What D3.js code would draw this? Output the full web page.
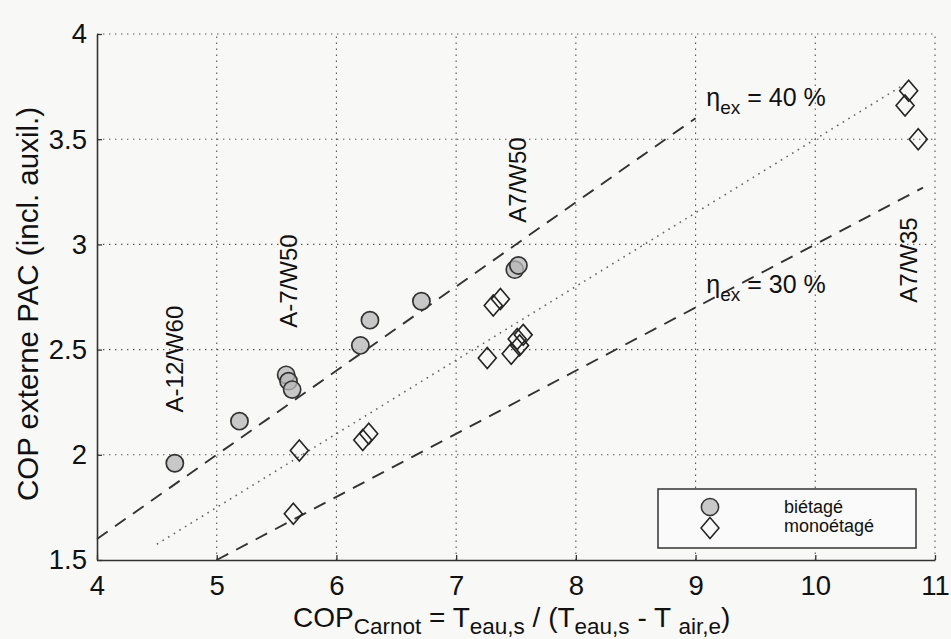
<!DOCTYPE html>
<html><head><meta charset="utf-8">
<script src="https://cdn.jsdelivr.net/npm/d3@7"></script>
<style>
body{margin:0;background:#f8f8f7}
svg{display:block}
text{font-family:"Liberation Sans",Arial,Helvetica,sans-serif;fill:#111}
</style>
</head><body>
<svg id="chart" width="951" height="639"></svg>
<script>
// Axis ticks
const xTicks = [4, 5, 6, 7, 8, 9, 10, 11];
const yTicks = [1.5, 2, 2.5, 3, 3.5, 4];
const yTickLabels = ["1.5", "2", "2.5", "3", "3.5", "4"];

// Measured heat pumps: two-stage (biétagé) and single-stage (monoétagé)
const bietageX = [4.65, 5.19, 5.58, 5.60, 5.63, 6.20, 6.28, 6.71, 7.49, 7.52];
const bietageY = [1.96, 2.16, 2.38, 2.35, 2.31, 2.52, 2.64, 2.73, 2.88, 2.90];
const monoX = [5.64, 5.69, 6.22, 6.27, 7.26, 7.31, 7.37, 7.46, 7.51, 7.53, 7.56, 10.75, 10.78, 10.86];
const monoY = [1.72, 2.02, 2.07, 2.10, 2.46, 2.71, 2.74, 2.48, 2.55, 2.52, 2.57, 3.66, 3.73, 3.50];

// Exergy efficiency reference lines: COP = eta * COP_Carnot
const effValues = [0.40, 0.35, 0.30];
const effFrom = [4, 4.5, 5];
const effTo = [9, 10.75, 10.9];

// Operating point labels
const conditionLabels = ["A-12/W60", "A-7/W50", "A7/W50", "A7/W35"];
const legendLabels = ["biétagé", "monoétagé"];

const svg = d3.select("#chart");
const W = 951, H = 639;
const m = {left: 97, right: 16, top: 34, bottom: 79};

const x = d3.scaleLinear().domain([4, 11]).range([m.left, W - m.right]);
const y = d3.scaleLinear().domain([1.5, 4]).range([H - m.bottom, m.top]);

svg.append("rect").attr("width", W).attr("height", H).attr("fill", "#f8f8f7");

// Dotted grid
const grid = svg.append("g").attr("stroke", "#555").attr("stroke-width", 1.1)
  .attr("stroke-dasharray", "1.4,4.6").attr("fill", "none");
grid.selectAll("line.v").data(xTicks.slice(1)).join("line")
  .attr("x1", d => x(d)).attr("x2", d => x(d))
  .attr("y1", y(1.5)).attr("y2", y(4));
grid.selectAll("line.h").data(yTicks.slice(1)).join("line")
  .attr("x1", x(4)).attr("x2", x(11))
  .attr("y1", d => y(d)).attr("y2", d => y(d));

// Axes
const xAxis = d3.axisBottom(x).tickValues(xTicks).tickSizeInner(-5).tickSizeOuter(0).tickPadding(15)
  .tickFormat(d3.format("d"));
const yAxis = d3.axisLeft(y).tickValues(yTicks).tickSizeInner(-5).tickSizeOuter(0).tickPadding(10)
  .tickFormat((d, i) => yTickLabels[i]);

const gx = svg.append("g").attr("transform", `translate(0,${y(1.5)})`).call(xAxis);
const gy = svg.append("g").attr("transform", `translate(${x(4)},0)`).call(yAxis);
[gx, gy].forEach(g => {
  g.select(".domain").attr("stroke", "#333").attr("stroke-width", 1.6);
  g.selectAll(".tick line").attr("stroke", "#333").attr("stroke-width", 1.3);
  g.selectAll(".tick text").attr("font-size", 27.5).attr("fill", "#111")
    .style("font-family", '"Liberation Sans",Arial,sans-serif');
});
gx.selectAll(".tick text").attr("dy", "0.71em");

// Efficiency lines
const effDash = ["13,9", "1.6,5", "13,9"];
const effColor = ["#333", "#666", "#333"];
effValues.forEach((e, i) => {
  svg.append("line")
    .attr("x1", x(effFrom[i])).attr("y1", y(e * effFrom[i]))
    .attr("x2", x(effTo[i])).attr("y2", y(e * effTo[i]))
    .attr("stroke", effColor[i]).attr("stroke-width", i === 1 ? 1.6 : 1.9)
    .attr("stroke-dasharray", effDash[i]);
});

// Markers
const circleR = 8.6;
function diamondPath(cx, cy) {
  const hw = 9, hh = 10.5;
  return `M${cx},${cy - hh}L${cx + hw},${cy}L${cx},${cy + hh}L${cx - hw},${cy}Z`;
}
svg.append("g").selectAll("circle").data(bietageX).join("circle")
  .attr("cx", d => x(d)).attr("cy", (d, i) => y(bietageY[i])).attr("r", circleR)
  .attr("fill", "#b8b8b8").attr("fill-opacity", 0.75)
  .attr("stroke", "#333").attr("stroke-width", 1.7);
svg.append("g").selectAll("path").data(monoX).join("path")
  .attr("d", (d, i) => diamondPath(x(d), y(monoY[i])))
  .attr("fill", "none").attr("stroke", "#222").attr("stroke-width", 1.6);

// Operating point labels (vertical)
const condAnchor = [[4.65, 2.455], [5.596, 2.826], [7.51, 3.306], [10.775, 2.926]];
svg.append("g").selectAll("text").data(conditionLabels).join("text")
  .attr("transform", (d, i) => `translate(${x(condAnchor[i][0])},${y(condAnchor[i][1])}) rotate(-90)`)
  .attr("text-anchor", "middle").attr("dy", "0.36em")
  .attr("font-size", 24).text(d => d);

// Efficiency labels
function etaLabel(px, py, val) {
  const t = svg.append("text").attr("x", px).attr("y", py).attr("font-size", 25);
  t.append("tspan").text("η");
  t.append("tspan").attr("dy", 8).attr("font-size", 19).text("ex");
  t.append("tspan").attr("dy", -8).text(` = ${val} %`);
}
etaLabel(x(9.09), y(3.66), Math.round(effValues[0] * 100));
etaLabel(x(9.09), y(2.77), Math.round(effValues[2] * 100));

// Axis titles
const xt = svg.append("text").attr("x", 293).attr("y", 627).attr("font-size", 28);
const sub = 7, subSize = 22.5;
xt.append("tspan").text("COP");
xt.append("tspan").attr("dy", sub).attr("font-size", subSize).text("Carnot");
xt.append("tspan").attr("dy", -sub).text(" = T");
xt.append("tspan").attr("dy", sub).attr("font-size", subSize).text("eau,s");
xt.append("tspan").attr("dy", -sub).text(" / (T");
xt.append("tspan").attr("dy", sub).attr("font-size", subSize).text("eau,s");
xt.append("tspan").attr("dy", -sub).text(" - T ");
xt.append("tspan").attr("dy", sub).attr("font-size", subSize).text("air,e");
xt.append("tspan").attr("dy", -sub).text(")");

svg.append("text")
  .attr("transform", `translate(38,${(y(1.5) + y(4)) / 2 + 7}) rotate(-90)`)
  .attr("text-anchor", "middle").attr("font-size", 29.5)
  .text("COP externe PAC (incl. auxil.)");

// Legend
const lg = svg.append("g").attr("transform", "translate(658,489)");
lg.append("rect").attr("width", 258).attr("height", 59)
  .attr("fill", "#fafafa").attr("stroke", "#333").attr("stroke-width", 1.5);
lg.append("circle").attr("cx", 52).attr("cy", 18).attr("r", circleR)
  .attr("fill", "#b8b8b8").attr("fill-opacity", 0.75).attr("stroke", "#333").attr("stroke-width", 1.5);
lg.append("path").attr("d", diamondPath(52, 39)).attr("fill", "none")
  .attr("stroke", "#222").attr("stroke-width", 1.5);
lg.selectAll("text").data(legendLabels).join("text")
  .attr("x", 126).attr("y", (d, i) => 24 + i * 19)
  .attr("font-size", 18).text(d => d);
</script>
</body></html>
